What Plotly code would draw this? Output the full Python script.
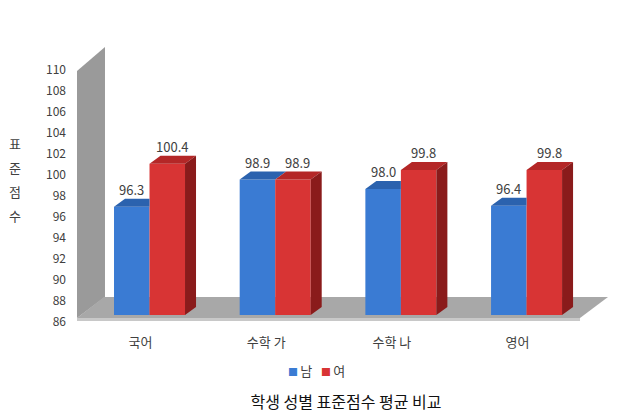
import plotly.graph_objects as go

# Data
categories = ["국어", "수학 가", "수학 나", "영어"]
male_scores = [96.3, 98.9, 98.0, 96.4]
female_scores = [100.4, 98.9, 99.8, 99.8]
series_names = ["남", "여"]
y_ticks = list(range(86, 111, 2))
y_title = "표준점수"
chart_title = "학생 성별 표준점수 평균 비교"

# Layout geometry (pixels)
W, H = 628, 418
M_L, M_R, M_T, M_B = 77, 20, 63, 103
plot_w = W - M_L - M_R
plot_h = H - M_T - M_B
x_range = [-0.577, 3.648]
y_range = [86, 110]
px_x = plot_w / (x_range[1] - x_range[0])
px_y = plot_h / (y_range[1] - y_range[0])

# bar depth (3D look), in data units
dx = 11 / px_x
dy = 8 / px_y
bar_w = 0.2825
base = y_range[0]

font = "Noto Sans CJK KR"
blue = dict(front="#3A7BD3", top="#2B62AE", side="#1D4A86")
red = dict(front="#D83434", top="#B42727", side="#8A1B1B")


def px_to_paper(x, y):
    return (x - M_L) / plot_w, (H - M_B - y) / plot_h


fig = go.Figure()

# front faces
for name, vals, col, off in [(series_names[0], male_scores, blue, -bar_w / 2),
                             (series_names[1], female_scores, red, bar_w / 2)]:
    fig.add_trace(go.Bar(
        x=[i + off for i in range(len(categories))],
        y=[v - base for v in vals],
        base=base,
        width=bar_w,
        name=name,
        marker=dict(color=col["front"], line=dict(width=0)),
        hoverinfo="skip",
        showlegend=False,
    ))


def poly_trace(polys, color):
    xs, ys = [], []
    for p in polys:
        xs += [pt[0] for pt in p] + [None]
        ys += [pt[1] for pt in p] + [None]
    return go.Scatter(x=xs, y=ys, mode="none", fill="toself", fillcolor=color,
                      hoverinfo="skip", showlegend=False)


blue_top, blue_side, red_top, red_side = [], [], [], []
for i in range(len(categories)):
    v, r = male_scores[i], female_scores[i]
    x0, x1 = i - bar_w, i
    # blue top, clipped where the red bar hides it
    if r <= v:
        blue_top.append([(x0, v), (x1, v), (x1 + dx, v + dy), (x0 + dx, v + dy)])
    elif r >= v + dy:
        blue_top.append([(x0, v), (x1, v), (x1, v + dy), (x0 + dx, v + dy)])
    else:
        t = (r - v) / dy
        blue_top.append([(x0, v), (x1, v), (x1, r), (x1 + dx * t, r),
                         (x1 + dx, v + dy), (x0 + dx, v + dy)])
    if v > r:
        blue_side.append([(x1, r), (x1, v), (x1 + dx, v + dy), (x1 + dx, r + dy)])
    # red bar
    x0, x1 = i, i + bar_w
    red_top.append([(x0, r), (x1, r), (x1 + dx, r + dy), (x0 + dx, r + dy)])
    red_side.append([(x1, base), (x1, r), (x1 + dx, r + dy), (x1 + dx, base + dy)])

fig.add_trace(poly_trace(blue_top, blue["top"]))
if blue_side:
    fig.add_trace(poly_trace(blue_side, blue["side"]))
fig.add_trace(poly_trace(red_top, red["top"]))
fig.add_trace(poly_trace(red_side, red["side"]))

# value labels above each bar
annotations = []
for vals, off, xs in [(male_scores, -bar_w / 2, 0), (female_scores, bar_w / 2, 5)]:
    for i, v in enumerate(vals):
        annotations.append(dict(
            x=i + off, y=v, xref="x", yref="y", text=f"{v:.1f}",
            showarrow=False, yanchor="bottom", xshift=xs, yshift=dy * px_y - 2,
            font=dict(family=font, size=13, color="#404040"),
        ))

# vertical axis title, one character per line
for k, ch in enumerate(y_title):
    xp, yp = px_to_paper(15, 143 + 24 * k)
    annotations.append(dict(
        x=xp, y=yp, xref="paper", yref="paper", text=ch, showarrow=False,
        xanchor="center", yanchor="middle",
        font=dict(family=font, size=13, color="#404040"),
    ))

# compact legend: small coloured squares with the series names
legend_text = "&nbsp;&nbsp;&nbsp;".join(
    f"<span style='color:{c};font-size:10px'>■ </span>{n}"
    for n, c in zip(series_names, [blue["front"], red["front"]])
)
lx, ly = px_to_paper(316, 370)
annotations.append(dict(x=lx, y=ly, xref="paper", yref="paper", text=legend_text,
                        showarrow=False, xanchor="center", yanchor="middle",
                        font=dict(family=font, size=13, color="#404040")))

# side wall and floor
shapes = []
wall = [px_to_paper(*p) for p in [(77, 318), (77, 71), (105, 47), (105, 297)]]
floor = [px_to_paper(*p) for p in [(77, 318), (580, 318), (608, 297), (104, 297)]]
edge = [px_to_paper(*p) for p in [(77, 318), (580, 318), (580, 321), (77, 321)]]
for pts, colr in [(wall, "#9A9A9A"), (floor, "#A8A8A8"), (edge, "#C8C8C8")]:
    path = "M " + " L ".join(f"{a:.4f},{b:.4f}" for a, b in pts) + " Z"
    shapes.append(dict(type="path", path=path, xref="paper", yref="paper",
                       fillcolor=colr, line=dict(width=0), layer="below"))

fig.update_layout(
    width=W, height=H,
    margin=dict(l=M_L, r=M_R, t=M_T, b=M_B),
    paper_bgcolor="white", plot_bgcolor="white",
    barmode="overlay",
    showlegend=False,
    font=dict(family=font, size=12, color="#404040"),
    title=dict(text=chart_title, x=346 / W, y=1 - 402 / H, xanchor="center",
               yanchor="middle", font=dict(family=font, size=16, color="#111111")),
    xaxis=dict(range=x_range, tickmode="array", tickvals=list(range(len(categories))),
               ticktext=categories, showgrid=False, zeroline=False, showline=False,
               ticks="", ticklabelshift=-9, ticklabelstandoff=18,
               tickfont=dict(family=font, size=13, color="#404040")),
    yaxis=dict(range=y_range, tickvals=y_ticks, showgrid=False, zeroline=False,
               showline=False, ticks="", ticklabelshift=7, ticklabelstandoff=10,
               tickfont=dict(family=font, size=12, color="#404040")),
    annotations=annotations,
    shapes=shapes,
)

# page has a default body margin; remove it so the chart sits at the top-left
fig.write_html("out.html", config={"displayModeBar": False},
               post_script="document.body.style.margin='0px';")
